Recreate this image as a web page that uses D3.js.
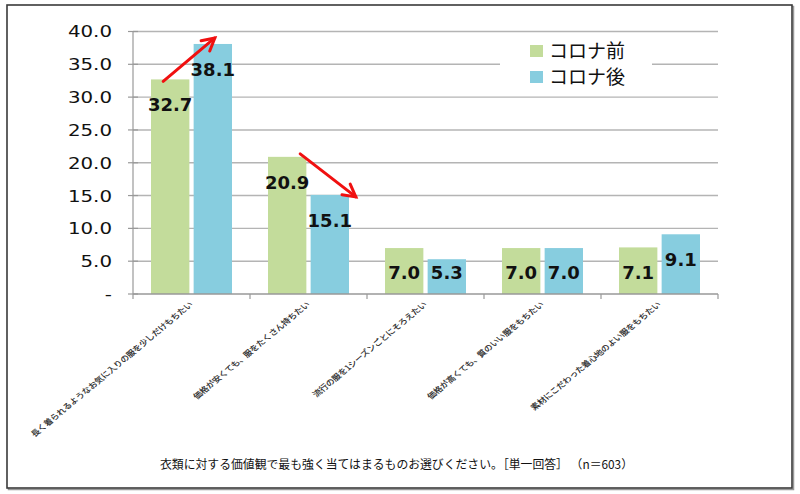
<!DOCTYPE html>
<html><head><meta charset="utf-8">
<script src="https://cdn.jsdelivr.net/npm/d3@7"></script>
<style>
html,body{margin:0;padding:0;background:#fff;}
svg{display:block;}
</style></head>
<body>
<svg id="chart" width="800" height="494"></svg>
<script>
const categories = [
  "長く着られるようなお気に入りの服を少しだけもちたい",
  "価格が安くても、服をたくさん持ちたい",
  "流行の服を1シーズンごとにそろえたい",
  "価格が高くても、質のいい服をもちたい",
  "素材にこだわった着心地のよい服をもちたい"
];
const seriesNames = ["コロナ前", "コロナ後"];
const before = [32.7, 20.9, 7.0, 7.0, 7.1];
const after = [38.1, 15.1, 5.3, 7.0, 9.1];
const yTicks = [0, 5, 10, 15, 20, 25, 30, 35, 40];
const colors = ["#C3DC9B", "#87CDDF"];
const title = "衣類に対する価値観で最も強く当てはまるものお選びください。［単一回答］ （n＝603）";
const arrowCats = [0, 1];

const svg = d3.select("#chart");
const numFont = "'DejaVu Sans', Verdana, sans-serif";
const cjkFont = "'Noto Sans CJK JP', sans-serif";

// frame
svg.append("rect").attr("x", 8.5).attr("y", 6.5).attr("width", 785).attr("height", 483)
  .attr("fill", "none").attr("stroke", "#999").attr("stroke-width", 1.5);
svg.append("rect").attr("x", 7).attr("y", 5).attr("width", 785).attr("height", 483)
  .attr("fill", "#fff").attr("stroke", "#3a3a3a").attr("stroke-width", 1.6);

const x0 = d3.scaleBand().domain(d3.range(categories.length)).range([133, 718]).padding(0);
const x1 = d3.scaleBand().domain([0, 1]).range([18, 99]).paddingInner(0.1);
const y = d3.scaleLinear().domain([0, 40]).range([294, 31.5]);

// gridlines
svg.append("g").selectAll("line").data(yTicks.filter(d => d > 0)).join("line")
  .attr("x1", 133).attr("x2", 718)
  .attr("y1", d => y(d)).attr("y2", d => y(d))
  .attr("stroke", "#b4b4b4").attr("stroke-width", 1.4);

// y axis
svg.append("line").attr("x1", 133).attr("x2", 133).attr("y1", y(40)).attr("y2", y(0))
  .attr("stroke", "#999").attr("stroke-width", 1.2);
svg.append("g").selectAll("line").data(yTicks).join("line")
  .attr("x1", 128).attr("x2", 138).attr("y1", d => y(d)).attr("y2", d => y(d))
  .attr("stroke", "#999").attr("stroke-width", 1.2);
svg.append("g").selectAll("text").data(yTicks).join("text")
  .attr("transform", d => `translate(112,${y(d)}) scale(1.2,1)`)
  .attr("text-anchor", "end").attr("dy", "0.36em")
  .attr("font-family", numFont).attr("font-size", 16.5).attr("fill", "#111")
  .text(d => d === 0 ? "-" : d.toFixed(1));

// bars
const data = categories.map((c, i) => [before[i], after[i]]);
const groups = svg.append("g").selectAll("g").data(data).join("g")
  .attr("transform", (d, i) => `translate(${x0(i)},0)`);
groups.selectAll("rect").data(d => d).join("rect")
  .attr("x", (d, j) => x1(j)).attr("width", x1.bandwidth())
  .attr("y", d => y(d)).attr("height", d => y(0) - y(d))
  .attr("fill", (d, j) => colors[j]);

// x axis
svg.append("line").attr("x1", 133).attr("x2", 718).attr("y1", y(0)).attr("y2", y(0))
  .attr("stroke", "#999").attr("stroke-width", 1.4);
svg.append("g").selectAll("line").data(d3.range(categories.length + 1)).join("line")
  .attr("x1", i => 133 + i * x0.step()).attr("x2", i => 133 + i * x0.step())
  .attr("y1", y(0)).attr("y2", y(0) + 5)
  .attr("stroke", "#999").attr("stroke-width", 1.2);

// value labels
groups.selectAll("text").data(d => d).join("text")
  .attr("x", (d, j) => x1(j) + x1.bandwidth() / 2)
  .attr("y", d => Math.min(y(d) + 32, y(0) - 15))
  .attr("text-anchor", "middle")
  .attr("font-family", numFont).attr("font-weight", "bold").attr("font-size", 18).attr("fill", "#111")
  .text(d => d.toFixed(1));

// category labels
svg.append("g").selectAll("text").data(categories).join("text")
  .attr("transform", (d, i) => `translate(${x0(i) + x0.bandwidth() / 2 + 2},305) scale(1.2,1) rotate(-45)`)
  .attr("text-anchor", "end")
  .attr("font-family", cjkFont).attr("font-size", 7.5).attr("fill", "#1a1a1a")
  .attr("stroke", "#1a1a1a").attr("stroke-width", 0.15)
  .text(d => d);

// arrows
const arrowG = svg.append("g");
function arrow(x1p, y1p, x2p, y2p) {
  arrowG.append("line").attr("x1", x1p).attr("y1", y1p).attr("x2", x2p).attr("y2", y2p)
    .attr("stroke", "#F01010").attr("stroke-width", 3).attr("stroke-linecap", "round");
  const ang = Math.atan2(y2p - y1p, x2p - x1p);
  const L = 14, a = 0.5;
  const p1 = [x2p - L * Math.cos(ang - a), y2p - L * Math.sin(ang - a)];
  const p2 = [x2p - L * Math.cos(ang + a), y2p - L * Math.sin(ang + a)];
  arrowG.append("path").attr("d", `M${p1[0]},${p1[1]}L${x2p},${y2p}L${p2[0]},${p2[1]}`)
    .attr("fill", "none").attr("stroke", "#F01010").attr("stroke-width", 3)
    .attr("stroke-linejoin", "miter").attr("stroke-linecap", "round");
}
{
  const i = arrowCats[0];
  const gx = x0(i) + x1(0) + x1.bandwidth() / 2, bx = x0(i) + x1(1) + x1.bandwidth() / 2;
  arrow(gx - 7, y(before[i]) + 2, bx + 2, y(after[i]) - 6);
}
{
  const i = arrowCats[1];
  const gx = x0(i) + x1(0) + x1.bandwidth() / 2, bx = x0(i) + x1(1) + x1.bandwidth() / 2;
  arrow(gx + 13, y(before[i]) - 3, bx + 26, y(after[i]) + 2);
}

// legend
svg.append("rect").attr("x", 500).attr("y", 37).attr("width", 152).attr("height", 52).attr("fill", "#fff");
const leg = svg.append("g").selectAll("g").data(seriesNames).join("g")
  .attr("transform", (d, i) => `translate(530,${51 + i * 26})`);
leg.append("rect").attr("x", 0).attr("y", -6).attr("width", 13).attr("height", 12)
  .attr("fill", (d, i) => colors[i]);
leg.append("text").attr("x", 19).attr("dy", "0.36em")
  .attr("font-family", cjkFont).attr("font-size", 19).attr("fill", "#111")
  .text(d => d);

// bottom title
svg.append("text").attr("x", 160).attr("y", 469)
  .attr("textLength", 473).attr("lengthAdjust", "spacingAndGlyphs")
  .attr("font-family", cjkFont).attr("font-size", 12).attr("fill", "#111")
  .text(title);
</script>
</body></html>
